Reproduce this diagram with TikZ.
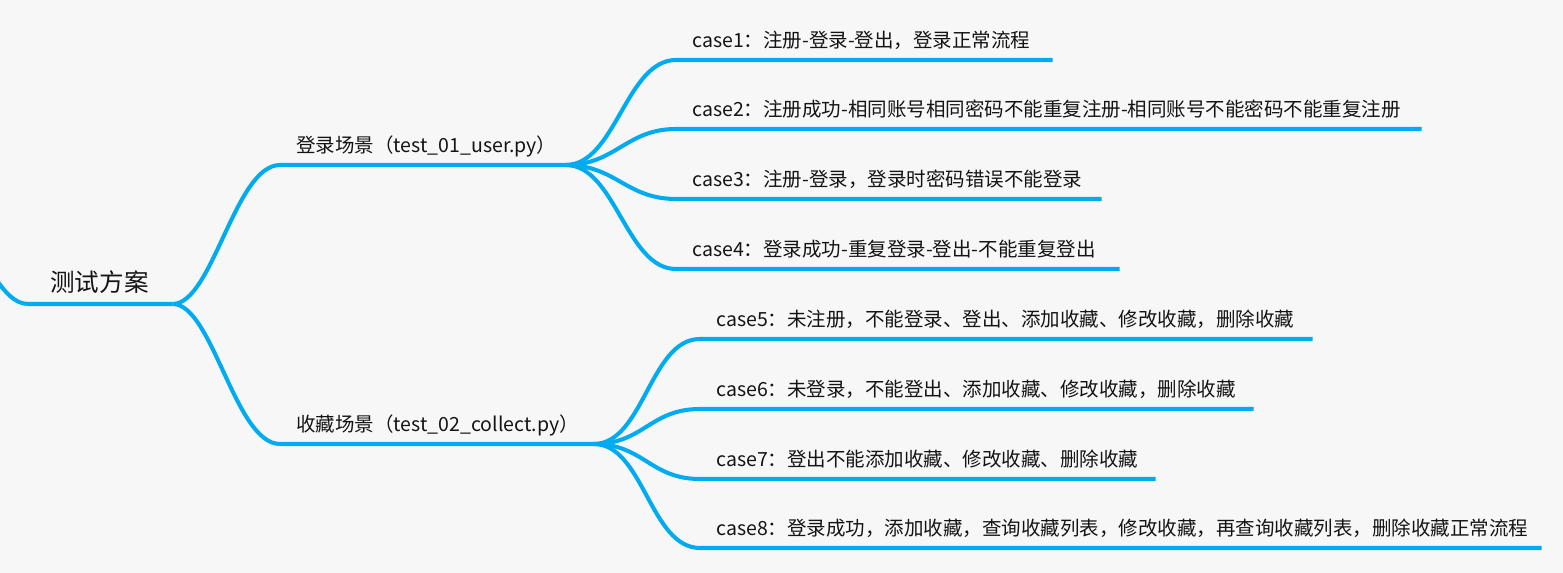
\documentclass[tikz,border=0pt]{standalone}
\usepackage{fontspec}
\setmainfont{Noto Sans CJK SC}
\definecolor{mapblue}{RGB}{0,171,240}
\definecolor{mapbg}{RGB}{247,247,247}

\begin{document}
\begin{tikzpicture}[x=0.02cm, y=-0.02cm,
    link/.style={draw=mapblue, line width=2.3pt},
    mapnode/.style={anchor=south west, inner xsep=0pt, inner ysep=0pt, text width=#1,
        align=left, text=black!92},
    topic/.style={mapnode=#1, text depth=0.25cm, font=\fontsize{11.1pt}{13pt}\selectfont,
        execute at begin node={\noindent\hspace*{0.32cm}}},
    roottopic/.style={mapnode=#1, text depth=0.24cm, font=\fontsize{14pt}{16pt}\selectfont,
        execute at begin node={\noindent\hspace*{0.44cm}}}]
    \fill[mapbg] (0,0) rectangle (1563,573);
    \useasboundingbox (0,0) rectangle (1563,573);

    % root and the two scenes
    \node[roottopic=2.88cm] (root) at (28,304) {测试方案};
    \node[topic=5.7cm] (user) at (280,165) {登录场景（test\_01\_user.py）};
    \node[topic=6.26cm] (collect) at (280,444) {收藏场景（test\_02\_collect.py）};

    % cases
    \node[topic=7.52cm] (case1) at (676,60) {case1：注册-登录-登出，登录正常流程};
    \node[topic=14.9cm] (case2) at (676,129) {case2：注册成功-相同账号相同密码不能重复注册-相同账号不能密码不能重复注册};
    \node[topic=8.5cm] (case3) at (676,199) {case3：注册-登录，登录时密码错误不能登录};
    \node[topic=8.86cm] (case4) at (676,269) {case4：登录成功-重复登录-登出-不能重复登出};
    \node[topic=12.24cm] (case5) at (700,339) {case5：未注册，不能登录、登出、添加收藏、修改收藏，删除收藏};
    \node[topic=11.06cm] (case6) at (700,409) {case6：未登录，不能登出、添加收藏、修改收藏，删除收藏};
    \node[topic=9.1cm] (case7) at (700,479) {case7：登出不能添加收藏、修改收藏、删除收藏};
    \node[topic=16.82cm] (case8) at (700,548) {case8：登录成功，添加收藏，查询收藏列表，修改收藏，再查询收藏列表，删除收藏正常流程};

    % branches with their underlines
    \coordinate (rootin) at (-2,282);
    \draw[link] (rootin) .. controls +(6,8) and +(-14,0) .. (root.south west) -- (root.south east);
    \draw[link] (root.south east) .. controls +(40,0) and +(-45,0) .. (user.south west) -- (user.south east);
    \draw[link] (root.south east) .. controls +(40,0) and +(-45,0) .. (collect.south west) -- (collect.south east);

    \draw[link] (user.south east) .. controls +(50,0) and +(-50,0) .. (case1.south west) -- (case1.south east);
    \draw[link] (user.south east) .. controls +(50,0) and +(-50,0) .. (case2.south west) -- (case2.south east);
    \draw[link] (user.south east) .. controls +(50,0) and +(-50,0) .. (case3.south west) -- (case3.south east);
    \draw[link] (user.south east) .. controls +(50,0) and +(-50,0) .. (case4.south west) -- (case4.south east);

    \draw[link] (collect.south east) .. controls +(50,0) and +(-50,0) .. (case5.south west) -- (case5.south east);
    \draw[link] (collect.south east) .. controls +(50,0) and +(-50,0) .. (case6.south west) -- (case6.south east);
    \draw[link] (collect.south east) .. controls +(50,0) and +(-50,0) .. (case7.south west) -- (case7.south east);
    \draw[link] (collect.south east) .. controls +(50,0) and +(-50,0) .. (case8.south west) -- (case8.south east);
\end{tikzpicture}
\end{document}
